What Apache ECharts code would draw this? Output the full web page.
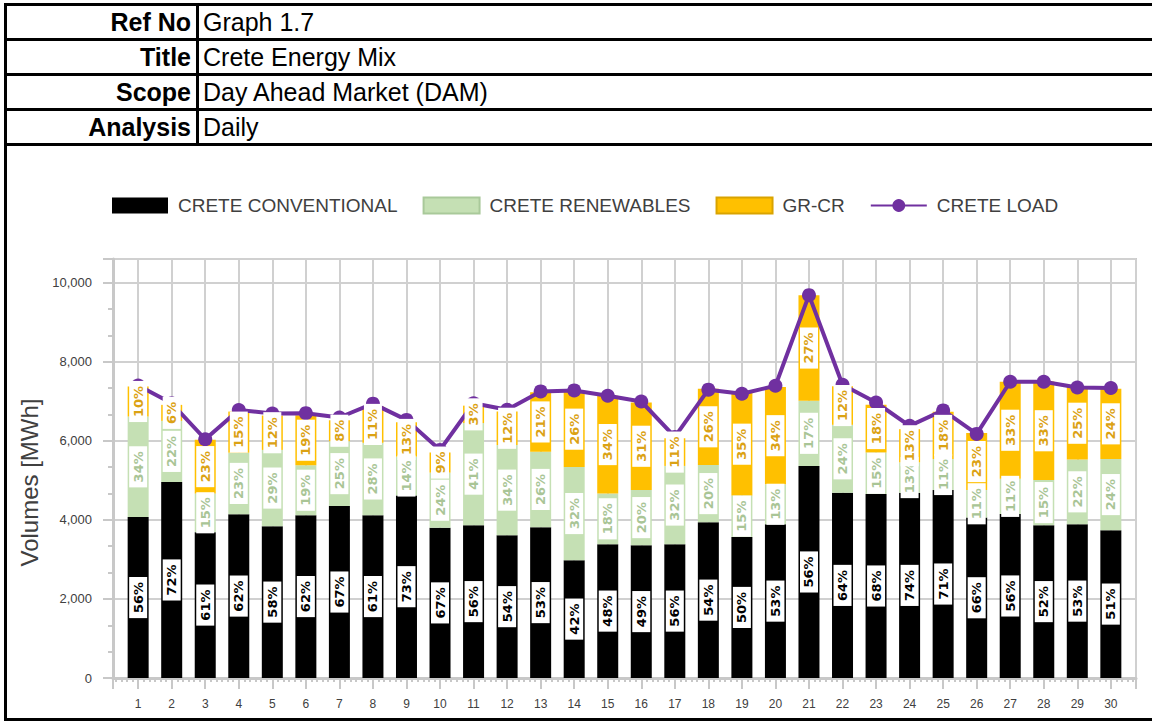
<!DOCTYPE html>
<html>
<head>
<meta charset="utf-8">
<script src="https://cdn.jsdelivr.net/npm/echarts@6/dist/echarts.min.js"></script>
<style>
  html, body { margin: 0; padding: 0; background: #fff; }
  #page { position: relative; width: 1152px; height: 722px; overflow: hidden; }
  #chart { position: absolute; left: 0; top: 0; width: 1152px; height: 722px; }
  #frame { position: absolute; left: 4px; top: 3px; width: 1170px; height: 712px; border: 3px solid #000; pointer-events: none; }
  #hdr { position: absolute; left: 4px; top: 3px; width: 1176px; border-collapse: collapse; font-family: 'Liberation Sans', Arial, sans-serif; font-size: 25px; color: #000; }
  #hdr th, #hdr td { border: 3px solid #000; height: 32px; padding: 0 5px 0 4px; line-height: 32px; white-space: nowrap; }
  #hdr th { width: 180px; text-align: right; font-weight: bold; }
  #hdr td { text-align: left; font-weight: normal; }
</style>
</head>
<body>
<div id="page">
  <div id="chart"></div>
  <table id="hdr">
    <tr><th>Ref No</th><td>Graph 1.7</td></tr>
    <tr><th>Title</th><td>Crete Energy Mix</td></tr>
    <tr><th>Scope</th><td>Day Ahead Market (DAM)</td></tr>
    <tr><th>Analysis</th><td>Daily</td></tr>
  </table>
  <div id="frame"></div>
</div>
<script>
// days of the month
const days = [1, 2, 3, 4, 5, 6, 7, 8, 9, 10, 11, 12, 13, 14, 15, 16, 17, 18, 19, 20, 21, 22, 23, 24, 25, 26, 27, 28, 29, 30];

// MWh per day
const conventional = [4070, 4960, 3690, 4145, 3840, 4120, 4350, 4120, 4620, 3800, 3865, 3610, 3815, 2980, 3385, 3360, 3385, 3940, 3570, 3890, 5365, 4685, 4655, 4685, 4755, 4060, 4150, 3865, 3890, 3740];
const renewables = [2545, 1545, 980, 1555, 1930, 1260, 1640, 1830, 980, 1395, 2585, 2285, 1910, 2360, 1285, 1395, 1980, 1450, 1050, 1010, 1650, 1720, 1050, 770, 785, 695, 890, 1145, 1640, 1800];
const grcr = [760, 405, 1355, 1040, 870, 1270, 530, 930, 870, 510, 440, 845, 1505, 1910, 2470, 2215, 700, 1930, 2590, 2460, 2665, 975, 1210, 840, 1195, 1440, 2455, 2490, 1830, 1780];
const load = [7400, 6950, 6040, 6780, 6690, 6700, 6590, 6940, 6530, 5770, 6950, 6785, 7250, 7275, 7140, 6995, 6100, 7295, 7190, 7395, 9685, 7420, 6970, 6380, 6770, 6175, 7495, 7495, 7350, 7335];

// share labels (%) as printed on the chart
const conventionalPct = [56, 72, 61, 62, 58, 62, 67, 61, 73, 67, 56, 54, 53, 42, 48, 49, 56, 54, 50, 53, 56, 64, 68, 74, 71, 66, 56, 52, 53, 51];
const renewablesPct = [34, 22, 15, 23, 29, 19, 25, 28, 14, 24, 41, 34, 26, 32, 18, 20, 32, 20, 15, 13, 17, 24, 15, 13, 11, 11, 11, 15, 22, 24];
const grcrPct = [10, 6, 23, 15, 12, 19, 8, 11, 13, 9, 3, 12, 21, 26, 34, 31, 11, 26, 35, 34, 27, 12, 18, 13, 18, 23, 33, 33, 25, 24];

const chart = echarts.init(document.getElementById('chart'), null, { renderer: 'svg' });

// value first so the stack runs on y (x is a value axis too)
function pairs(values) {
  return days.map((d, i) => [values[i], d]);
}

function barSeries(name, values, color) {
  return {
    name: name,
    type: 'bar',
    stack: 'mix',
    barWidth: 21,
    barGap: '-100%',
    z: 2,
    encode: { x: 1, y: 0 },
    itemStyle: { color: color },
    data: pairs(values)
  };
}

// transparent copy of the stack, only to put the labels above the load line
function labelSeries(name, values, pct, color) {
  return {
    name: name,
    type: 'bar',
    stack: 'labels',
    barWidth: 21,
    barGap: '-100%',
    z: 5,
    silent: true,
    encode: { x: 1, y: 0 },
    itemStyle: { color: 'rgba(0,0,0,0)' },
    label: {
      show: true,
      position: 'inside',
      rotate: 90,
      formatter: p => pct[p.dataIndex] + '%',
      color: color,
      fontFamily: 'DejaVu Sans',
      fontWeight: 'bold',
      fontSize: 13,
      lineHeight: 15,
      backgroundColor: '#fff',
      padding: [2, 5, 1, 5]
    },
    data: pairs(values)
  };
}

const axisGrey = '#C8C8C8';
const textGrey = '#404040';

chart.setOption({
  animation: false,
  legend: {
    left: 112,
    top: 196,
    padding: 0,
    itemWidth: 56,
    itemHeight: 16,
    itemGap: 25,
    textStyle: { fontFamily: 'Liberation Sans', fontSize: 19, color: textGrey, padding: [0, 0, 0, 5] },
    data: [
      { name: 'CRETE CONVENTIONAL', icon: 'rect' },
      { name: 'CRETE RENEWABLES', icon: 'rect', itemStyle: { borderColor: '#A9C99A', borderWidth: 2 } },
      { name: 'GR-CR', icon: 'rect', itemStyle: { borderColor: '#D9A300', borderWidth: 2 } },
      { name: 'CRETE LOAD' }
    ]
  },
  grid: {
    left: 113,
    top: 259,
    width: 1023,
    height: 419,
    show: true,
    borderColor: axisGrey,
    borderWidth: 2
  },
  xAxis: {
    type: 'value',
    min: 0.25,
    max: 30.75,
    splitNumber: 30,
    axisLine: { lineStyle: { color: axisGrey, width: 3 } },
    axisTick: { length: 11, lineStyle: { color: axisGrey, width: 2 } },
    minorTick: { show: true, splitNumber: 6, length: 4, lineStyle: { color: axisGrey, width: 2 } },
    axisLabel: {
      margin: 20,
      fontFamily: 'Liberation Sans',
      fontSize: 12,
      color: textGrey,
      formatter: v => (Number.isInteger(v) ? String(v) : '')
    },
    splitLine: { show: true, lineStyle: { color: '#D0D0D0', width: 2 } }
  },
  yAxis: {
    type: 'value',
    min: 0,
    max: 10600,
    interval: 2000,
    name: 'Volumes [MWh]',
    nameLocation: 'middle',
    nameGap: 60,
    nameTextStyle: { fontFamily: 'Liberation Sans', fontSize: 24, color: textGrey, padding: [0, 28, 0, 0] },
    axisLine: { show: true, lineStyle: { color: axisGrey, width: 3 } },
    axisTick: { show: true, length: 10, lineStyle: { color: axisGrey, width: 2 } },
    minorTick: { show: true, splitNumber: 3, length: 5, lineStyle: { color: axisGrey, width: 2 } },
    axisLabel: {
      margin: 21,
      fontFamily: 'Liberation Sans',
      fontSize: 13,
      color: textGrey,
      formatter: v => (v > 10000 ? '' : v.toLocaleString('en-US'))
    },
    splitLine: { show: true, lineStyle: { color: '#D0D0D0', width: 2 } }
  },
  series: [
    barSeries('CRETE CONVENTIONAL', conventional, '#000000'),
    barSeries('CRETE RENEWABLES', renewables, '#C5E0B4'),
    barSeries('GR-CR', grcr, '#FFC000'),
    {
      name: 'CRETE LOAD',
      type: 'line',
      z: 4,
      symbol: 'circle',
      symbolSize: 14,
      encode: { x: 1, y: 0 },
      lineStyle: { color: '#7030A0', width: 4 },
      itemStyle: { color: '#7030A0' },
      data: pairs(load)
    },
    labelSeries('conventional share', conventional, conventionalPct, '#000000'),
    labelSeries('renewables share', renewables, renewablesPct, '#A9C596'),
    labelSeries('gr-cr share', grcr, grcrPct, '#DBA214')
  ]
});
</script>
</body>
</html>
